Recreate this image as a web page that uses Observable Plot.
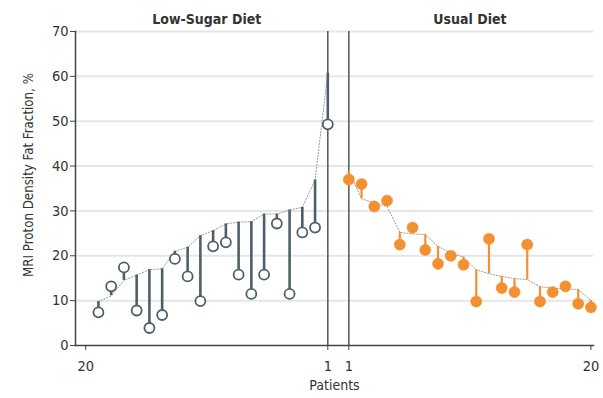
<!DOCTYPE html>
<html>
<head>
<meta charset="utf-8">
<script src="https://cdn.jsdelivr.net/npm/d3@7"></script>
<script src="https://cdn.jsdelivr.net/npm/@observablehq/plot@0.6"></script>
<style>
  html, body { margin: 0; padding: 0; background: #fff; }
  #chart { width: 603px; height: 398px; overflow: hidden; }
</style>
</head>
<body>
<div id="chart"></div>
<script>
// ---- Data ----
const panels = ["Low-Sugar Diet", "Usual Diet"];

const lowPatients = [1, 2, 3, 4, 5, 6, 7, 8, 9, 10, 11, 12, 13, 14, 15, 16, 17, 18, 19];
const lowBaseline = [60.7, 36.9, 30.8, 30.2, 29.3, 29.3, 27.6, 27.5, 27.1, 25.6, 24.5, 21.9, 21.0, 17.1, 16.9, 15.7, 14.5, 11.1, 9.8];
const lowEnd      = [49.3, 26.3, 25.2, 11.5, 27.2, 15.8, 11.5, 15.8, 23.0, 22.1, 9.9, 15.4, 19.3, 6.8, 3.9, 7.8, 17.4, 13.2, 7.4];

const usualPatients = [1, 2, 3, 4, 5, 6, 7, 8, 9, 10, 11, 12, 13, 14, 15, 16, 17, 18, 19, 20];
const usualBaseline = [38.8, 32.7, 31.8, 31.0, 25.2, 24.9, 24.7, 22.1, 20.6, 19.7, 16.9, 16.0, 15.4, 14.9, 14.7, 13.1, 12.8, 12.6, 12.5, 10.0];
const usualEnd      = [37.0, 36.0, 31.0, 32.3, 22.5, 26.3, 21.3, 18.2, 20.0, 18.0, 9.8, 23.8, 12.8, 11.9, 22.5, 9.8, 11.9, 13.2, 9.3, 8.5];

const xTickPatients = [20, 1];
const yTicks = [0, 10, 20, 30, 40, 50, 60, 70];
const yLabel = "MRI Proton Density Fat Fraction, %";
const xLabel = "Patients";

// ---- Layout constants ----
const panelGap = 1.65;          // gap between the two panels, in patient steps
const maxPatient = 20;
const yLabelAt = 38;            // vertical centre of the y label, in data units
// Left panel runs 20 -> 1, right panel runs 1 -> 20
const pos = (panel, p) => panel === panels[0] ? 1 - p : p - 1 + panelGap;

const lowData = lowPatients.map((p, i) => ({panel: panels[0], p, base: lowBaseline[i], end: lowEnd[i]}));
const usualData = usualPatients.map((p, i) => ({panel: panels[1], p, base: usualBaseline[i], end: usualEnd[i]}));
lowData.forEach(d => d.x = pos(d.panel, d.p));
usualData.forEach(d => d.x = pos(d.panel, d.p));

const ticks = [];
panels.forEach((panel, k) => {
  const list = k === 0 ? xTickPatients : [...xTickPatients].reverse();
  list.forEach(p => ticks.push({x: pos(panel, p), label: String(p)}));
});
const tickLabel = new Map(ticks.map(t => [t.x, t.label]));

const dividers = panels.map(panel => ({x: pos(panel, 1)}));
const titles = panels.map(panel => ({name: panel, x: (pos(panel, 1) + pos(panel, maxPatient)) / 2}));

const slate = "#4e6067";
const orange = "#f39132";
const axisColor = "#444";
const font = "'DejaVu Sans Condensed', 'Liberation Sans Narrow', 'Roboto', sans-serif";

const chart = Plot.plot({
  width: 603,
  height: 398,
  marginLeft: 75,
  marginRight: 10,
  marginTop: 31,
  marginBottom: 53,
  style: {fontFamily: font, fontSize: "14.5px", color: "#333", background: "#fff", overflow: "visible"},
  x: {
    domain: [pos(panels[0], maxPatient) - 0.8, pos(panels[1], maxPatient) + 0.2],
    label: null
  },
  y: {
    domain: [0, 70],
    label: null
  },
  marks: [
    Plot.ruleY(yTicks.filter(t => t > 0), {stroke: "#e6e6e6", strokeWidth: 2}),
    Plot.ruleX(dividers, {x: "x", y1: 0, y2: 70, stroke: "#555", strokeWidth: 1.5}),
    // axes
    Plot.axisX({ticks: ticks.map(t => t.x), tickFormat: d => tickLabel.get(d) ?? "", tickSize: 5, tickPadding: 10, stroke: axisColor, label: null}),
    Plot.axisY({ticks: yTicks, tickSize: 5, tickPadding: 2, stroke: axisColor, label: null}),
    Plot.frame({anchor: "bottom", stroke: axisColor, strokeWidth: 1.5}),
    Plot.frame({anchor: "left", stroke: axisColor, strokeWidth: 1.5}),
    // dotted baseline connectors
    Plot.line(lowData, {x: "x", y: "base", stroke: "#9a9a9a", strokeWidth: 1, strokeDasharray: "1.2,1.8", sort: "x"}),
    Plot.line(usualData, {x: "x", y: "base", stroke: "#9a9a9a", strokeWidth: 1, strokeDasharray: "1.2,1.8", sort: "x"}),
    // stems
    Plot.ruleX(lowData, {x: "x", y1: "base", y2: "end", stroke: slate, strokeWidth: 2.6}),
    Plot.ruleX(usualData, {x: "x", y1: "base", y2: "end", stroke: orange, strokeWidth: 2.2}),
    // end-point dots
    Plot.dot(lowData, {x: "x", y: "end", r: 5, fill: "#fff", stroke: slate, strokeWidth: 1.8}),
    Plot.dot(usualData, {x: "x", y: "end", r: 5.6, fill: orange, stroke: orange, strokeWidth: 0.5}),
    // panel titles
    Plot.text(titles, {x: "x", text: "name", frameAnchor: "top", dy: -17, fontWeight: "bold", fontSize: 14, fill: "#333"}),
    // axis labels
    Plot.text([xLabel], {text: d => d, frameAnchor: "bottom", lineAnchor: "middle", dy: 40, fontSize: 14, fill: "#333"}),
    Plot.text([yLabel], {text: d => d, y: () => yLabelAt, frameAnchor: "left", textAnchor: "middle", lineAnchor: "middle", dx: -47, rotate: -90, fontSize: 13.2, fill: "#333"})
  ]
});

document.getElementById("chart").appendChild(chart);
</script>
</body>
</html>
